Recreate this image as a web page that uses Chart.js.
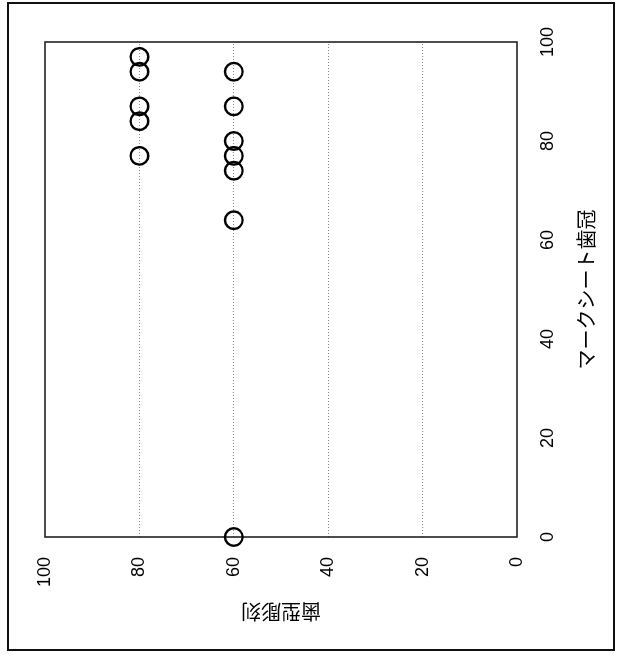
<!DOCTYPE html>
<html>
<head>
<meta charset="utf-8">
<script src="https://cdn.jsdelivr.net/npm/chart.js@4/dist/chart.umd.min.js"></script>
<style>
  body { margin: 0; background: #fff; }
  #page { position: relative; width: 619px; height: 658px; overflow: hidden; }
  #frame { position: absolute; left: 7px; top: 2px; width: 604px; height: 645px; border: 2px solid #111; }
  #rot { position: absolute; left: 0; top: 0; width: 658px; height: 619px;
         transform-origin: 0 0; transform: translateY(658px) rotate(-90deg); }
</style>
</head>
<body>
<div id="page">
  <div id="frame"></div>
  <div id="rot"><canvas id="chart" width="658" height="619"></canvas></div>
</div>
<script>
// マークシート歯冠 (x) vs 歯型彫刻 (y)
var markSheet = [97, 94, 87, 84, 77, 94, 87, 80, 77, 74, 64, 0];
var carving = [80, 80, 80, 80, 80, 60, 60, 60, 60, 60, 60, 60];
var tickValues = [0, 20, 40, 60, 80, 100];
var xTitle = 'マークシート歯冠';
var yTitle = '歯型彫刻';

var points = markSheet.map(function (v, i) {
    return { x: v, y: carving[i] };
});

var plotFrame = {
    id: 'plotFrame',
    beforeDatasetsDraw: function (chart) {
        var a = chart.chartArea;
        var c = chart.ctx;
        c.save();
        c.strokeStyle = '#222';
        c.lineWidth = 1.6;
        c.strokeRect(a.left, a.top, a.right - a.left, a.bottom - a.top);
        c.restore();
    }
};

var tickFont = { family: "'Liberation Sans', Arial, sans-serif", size: 18 };
var titleFont = { family: "'Noto Sans CJK JP', sans-serif", size: 20 };

var ctx = document.getElementById('chart').getContext('2d');
var chart = new Chart(ctx, {
    type: 'scatter',
    data: {
        datasets: [{
            data: points,
            pointRadius: 8.8,
            pointHoverRadius: 8.8,
            pointBorderWidth: 2.4,
            borderColor: '#000',
            backgroundColor: 'rgba(0,0,0,0)',
            clip: false
        }]
    },
    plugins: [plotFrame],
    options: {
        responsive: false,
        animation: false,
        layout: { padding: { top: 45, right: 42, left: 0, bottom: 0 } },
        plugins: { legend: { display: false }, tooltip: { enabled: false } },
        scales: {
            x: {
                min: 0, max: 100,
                afterBuildTicks: function (s) { s.ticks = tickValues.map(function (v) { return { value: v }; }); },
                afterFit: function (s) { s.height = 102; },
                grid: { display: false, drawTicks: false },
                border: { display: false },
                ticks: { color: '#000', font: tickFont, padding: 20, maxRotation: 0 },
                title: { display: true, text: xTitle, color: '#000', font: titleFont, padding: { top: 0, bottom: 21 } }
            },
            y: {
                min: 0, max: 100,
                afterBuildTicks: function (s) { s.ticks = tickValues.map(function (v) { return { value: v }; }); },
                afterFit: function (s) { s.width = 121; },
                grid: {
                    drawTicks: false,
                    color: function (c) { return (c.tick && (c.tick.value === 0 || c.tick.value === 100)) ? 'rgba(0,0,0,0)' : '#888'; },
                    lineWidth: 1
                },
                border: { display: false, dash: [1, 2] },
                ticks: { color: '#000', font: tickFont, padding: 20 },
                title: { display: true, text: yTitle, color: '#000', font: titleFont, padding: { top: 34, bottom: 0 } }
            }
        }
    }
});
</script>
</body>
</html>
